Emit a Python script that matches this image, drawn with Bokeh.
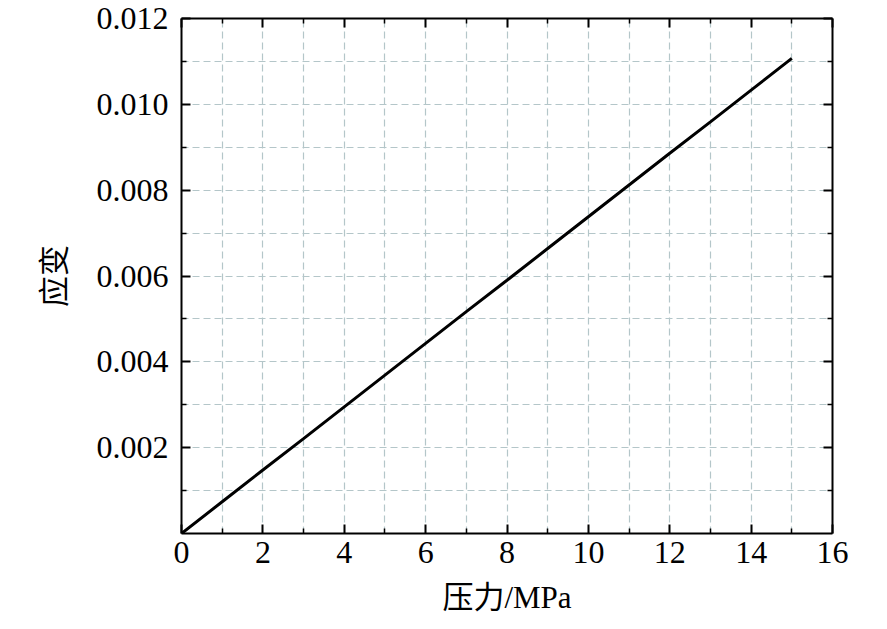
from bokeh.plotting import figure
from bokeh.models import (Range1d, FixedTicker, LinearAxis, PrintfTickFormatter,
                          CustomJSTickFormatter)
from bokeh.embed import file_html
from bokeh.resources import INLINE

# data
pressure = [0, 1, 2, 3, 4, 5, 6, 7, 8, 9, 10, 11, 12, 13, 14, 15]
strain = [0.0, 0.00074, 0.00148, 0.00221, 0.00295, 0.00369, 0.00443, 0.00517,
          0.00590, 0.00664, 0.00738, 0.00812, 0.00886, 0.00959, 0.01033, 0.01107]
x_major = [0, 2, 4, 6, 8, 10, 12, 14, 16]
x_minor = [1, 3, 5, 7, 9, 11, 13, 15]
y_major = [0.002, 0.004, 0.006, 0.008, 0.010, 0.012]
y_minor = [0.001, 0.003, 0.005, 0.007, 0.009, 0.011]
x_title = "压力/MPa"
y_title = "应变"

FONT = "'Times New Roman', 'Liberation Serif', 'Noto Sans CJK SC', serif"
GRID = "#b4c6c9"

p = figure(width=879, height=621, output_backend="svg", toolbar_location=None,
           x_range=Range1d(0, 16), y_range=Range1d(0, 0.012),
           x_axis_location=None, y_axis_location=None,
           min_border_left=181, min_border_right=47, min_border_top=18,
           min_border_bottom=88)
p.outline_line_color = None
p.background_fill_color = "white"
p.border_fill_color = "white"

p.line(pressure, strain, line_color="black", line_width=3)

xt = FixedTicker(ticks=x_major, minor_ticks=x_minor)
yt = FixedTicker(ticks=y_major, minor_ticks=y_minor)


def style(ax, labels=True):
    ax.axis_line_color = "black"
    ax.axis_line_width = 2
    ax.major_tick_line_color = "black"
    ax.major_tick_line_width = 2
    ax.minor_tick_line_color = "black"
    ax.minor_tick_line_width = 1.5
    ax.major_tick_in = 9
    ax.major_tick_out = 0
    ax.minor_tick_in = 5
    ax.minor_tick_out = 0
    ax.major_label_text_font = FONT
    ax.major_label_text_font_size = "32px"
    ax.major_label_text_color = "black"
    ax.axis_label_text_font = FONT
    ax.axis_label_text_font_size = "31px"
    ax.axis_label_text_font_style = "normal"
    ax.axis_label_text_color = "black"
    if not labels:
        ax.formatter = CustomJSTickFormatter(code="return ''")
        ax.major_label_standoff = 0
        ax.major_label_text_font_size = "1px"


xb = LinearAxis(ticker=xt, axis_label=x_title)
style(xb)
xb.major_label_standoff = 8
xb.axis_label_standoff = 14
p.add_layout(xb, "below")

yl = LinearAxis(ticker=yt, axis_label=y_title, formatter=PrintfTickFormatter(format="%.3f"))
style(yl)
yl.major_label_standoff = 13
yl.axis_label_standoff = 22
p.add_layout(yl, "left")

xa = LinearAxis(ticker=xt)
style(xa, labels=False)
p.add_layout(xa, "above")

yr = LinearAxis(ticker=yt)
style(yr, labels=False)
p.add_layout(yr, "right")

p.xgrid.ticker = xt
p.ygrid.ticker = yt
for g in (p.xgrid[0], p.ygrid[0]):
    g.grid_line_color = GRID
    g.grid_line_dash = "7 4"
    g.grid_line_width = 1.2
    g.minor_grid_line_color = GRID
    g.minor_grid_line_dash = "7 4"
    g.minor_grid_line_width = 1.2

open("out.html", "w").write(file_html(p, INLINE))
